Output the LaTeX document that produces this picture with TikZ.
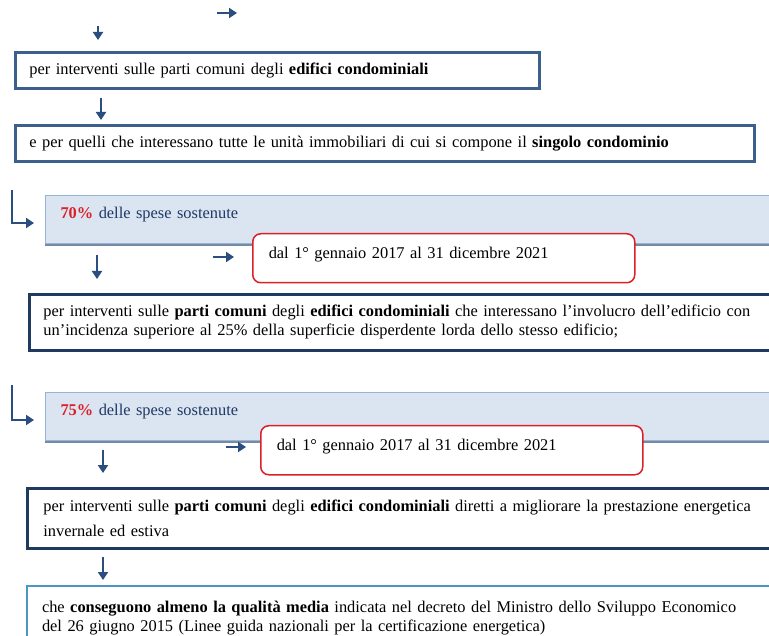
\documentclass[tikz,border=0pt]{standalone}
\usepackage{fontspec}
\setmainfont{Liberation Serif}
\usetikzlibrary{arrows.meta,shadows}
\definecolor{arrowblue}{RGB}{42,78,128}
\definecolor{frameblue}{RGB}{60,95,140}
\definecolor{framenavy}{RGB}{30,58,95}
\definecolor{framecyan}{RGB}{75,150,195}
\definecolor{bandfill}{RGB}{219,229,241}
\definecolor{bandline}{RGB}{150,180,215}
\definecolor{bandshadow}{RGB}{118,138,162}
\definecolor{bandtext}{RGB}{31,56,100}
\definecolor{datered}{RGB}{218,32,40}
\newcommand{\fullline}[1]{\makebox[\hsize][s]{#1}}
\newcommand{\perc}[1]{\textcolor{datered}{\textbf{#1}}}

\begin{document}
\begin{tikzpicture}[x=1pt,y=-1pt,
  font=\fontsize{16.4}{19}\selectfont,
  arr/.style={line width=2.4pt,draw=arrowblue,-{Triangle[width=10pt,length=8pt]}},
  plainbox/.style={draw=frameblue,line width=2.8pt,anchor=north west,
    inner xsep=14pt,inner ysep=0pt,align=left},
  widebox/.style={draw=framenavy,line width=2.8pt,anchor=north west,
    inner xsep=14pt,inner ysep=0pt,align=left,text width=724pt},
  band/.style={draw=bandline,fill=bandfill,line width=1pt,anchor=north west,
    inner xsep=15pt,inner ysep=5pt,text height=18pt,text depth=20pt,
    text width=715pt,align=left,text=bandtext,
    drop shadow={shadow xshift=-1pt,shadow yshift=-3pt,fill=bandshadow,opacity=1}},
  datebox/.style={draw=datered,fill=white,line width=1.5pt,rounded corners=8pt,
    anchor=north west,inner xsep=16pt,inner ysep=5pt,text height=20pt,
    text depth=19pt,text width=350pt,align=left}
]
\useasboundingbox (0,0) rectangle (769,636);
\clip (0,0) rectangle (769,636);

\node[plainbox,text width=496pt,minimum height=36pt] (edifici) at (14,51)
  {per interventi sulle parti comuni degli \textbf{edifici condominiali}};
\node[plainbox,text width=711pt,minimum height=36pt] (unita) at (14,124)
  {e per quelli che interessano tutte le unità immobiliari di cui si compone il \textbf{singolo condominio}};

\node[band] (spese70) at (45,195) {\perc{70\%} delle spese sostenute};
\node[datebox] (data70) at (252,233) {dal 1° gennaio 2017 al 31 dicembre 2021};
\node[widebox,minimum height=56pt] (involucro) at (28,293)
  {\fullline{per interventi sulle \textbf{parti comuni} degli \textbf{edifici condominiali} che interessano l’involucro dell’edificio con}\\
   un’incidenza superiore al 25\% della superficie disperdente lorda dello stesso edificio;};

\node[band] (spese75) at (45,392) {\perc{75\%} delle spese sostenute};
\node[datebox] (data75) at (260,425) {dal 1° gennaio 2017 al 31 dicembre 2021};
\node[widebox,inner xsep=16pt,minimum height=60pt,font=\fontsize{16.4}{25}\selectfont] (prestazione) at (26,487)
  {\fullline{per interventi sulle \textbf{parti comuni} degli \textbf{edifici condominiali} diretti a migliorare la prestazione energetica}\\
   invernale ed estiva};
\node[widebox,draw=framecyan,line width=2pt,inner xsep=15pt,minimum height=72pt,
  text depth=30pt] (qualita) at (26,585)
  {\fullline{che \textbf{conseguono almeno la qualità media} indicata nel decreto del Ministro dello Sviluppo Economico}\\
   del 26 giugno 2015 (Linee guida nazionali per la certificazione energetica)};

\coordinate (a1s) at (98,26);   \coordinate (a1e) at (98,40);
\coordinate (a2s) at (217,13);  \coordinate (a2e) at (237,13);
\coordinate (a3s) at (101,98);  \coordinate (a3e) at (101,120);
\coordinate (e1s) at (12,190);  \coordinate (e1e) at (34,223);
\coordinate (a4s) at (213,257); \coordinate (a4e) at (234,257);
\coordinate (a5s) at (97,255);  \coordinate (a5e) at (97,279);
\coordinate (e2s) at (12,385);  \coordinate (e2e) at (34,420);
\coordinate (a6s) at (226,447); \coordinate (a6e) at (246,447);
\coordinate (a7s) at (103,450); \coordinate (a7e) at (103,473);
\coordinate (a8s) at (103,557); \coordinate (a8e) at (103,580);

\draw[arr] (a1s) -- (a1e);
\draw[arr] (a2s) -- (a2e);
\draw[arr] (a3s) -- (a3e);
\draw[arr] (e1s) |- (e1e);
\draw[arr] (a4s) -- (a4e);
\draw[arr] (a5s) -- (a5e);
\draw[arr] (e2s) |- (e2e);
\draw[arr] (a6s) -- (a6e);
\draw[arr] (a7s) -- (a7e);
\draw[arr] (a8s) -- (a8e);
\end{tikzpicture}
\end{document}
